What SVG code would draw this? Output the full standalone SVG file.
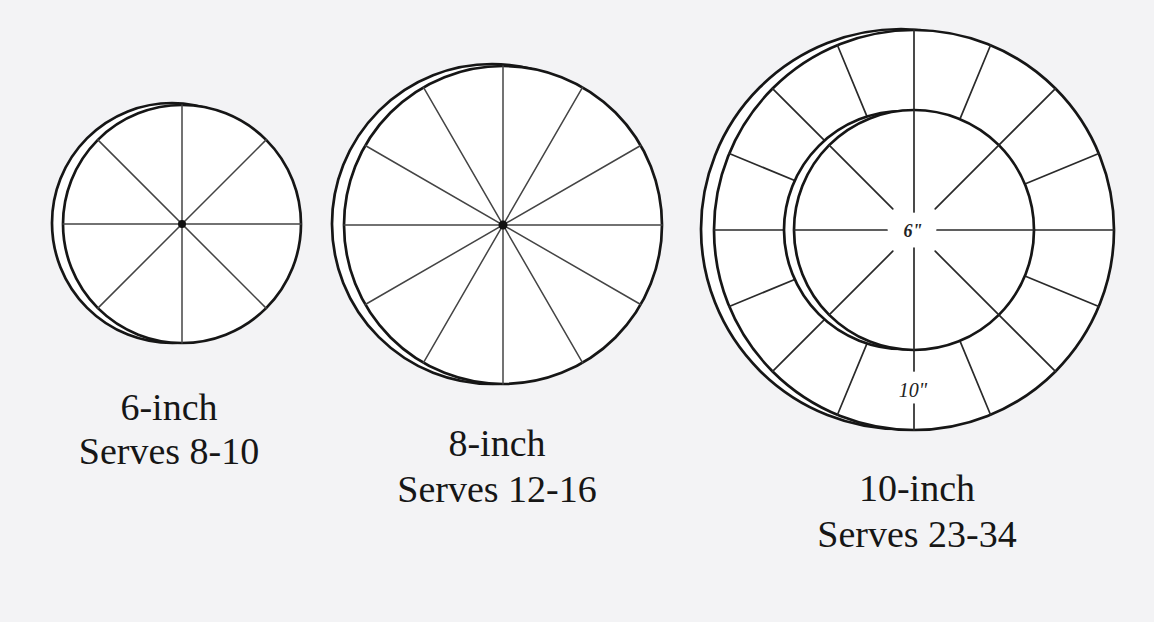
<svg xmlns="http://www.w3.org/2000/svg" width="1154" height="622" viewBox="0 0 1154 622">
  <style>
    .rim { fill: #ffffff; stroke: #161616; stroke-width: 2.7; }
    .spoke { stroke: #444444; stroke-width: 1.5; fill: none; stroke-linecap: round; }
    .spoke2 { stroke: #2a2a2a; stroke-width: 1.7; fill: none; stroke-linecap: round; }
    .hub { fill: #111111; }
    .label { font-family: "Liberation Serif", "Times New Roman", serif; font-size: 38px; fill: #161616; text-anchor: middle; }
    .mark { font-family: "Liberation Serif", "Times New Roman", serif; font-style: italic; fill: #222222; text-anchor: middle; }
  </style>
  <rect x="0" y="0" width="1154" height="622" fill="#f3f3f5"/>

  <g id="cake-6-inch">
    <circle class="rim" cx="172" cy="223" r="120"/>
    <circle class="rim" cx="182" cy="224" r="119"/>
    <g class="spoke">
      <line x1="182" y1="105" x2="182" y2="343"/>
      <line x1="63" y1="224" x2="301" y2="224"/>
      <line x1="97.9" y1="139.9" x2="266.1" y2="308.1"/>
      <line x1="266.1" y1="139.9" x2="97.9" y2="308.1"/>
    </g>
    <circle class="hub" cx="182" cy="224" r="4"/>
    <text class="label" x="169" y="420">6-inch</text>
    <text class="label" x="169" y="464">Serves 8-10</text>
  </g>

  <g id="cake-8-inch">
    <circle class="rim" cx="492" cy="224" r="160"/>
    <circle class="rim" cx="503" cy="225" r="159"/>
    <g class="spoke">
      <line x1="503" y1="66" x2="503" y2="384"/>
      <line x1="344" y1="225" x2="662" y2="225"/>
      <line x1="582.5" y1="87.3" x2="423.5" y2="362.7"/>
      <line x1="423.5" y1="87.3" x2="582.5" y2="362.7"/>
      <line x1="640.7" y1="145.5" x2="365.3" y2="304.5"/>
      <line x1="365.3" y1="145.5" x2="640.7" y2="304.5"/>
    </g>
    <circle class="hub" cx="503" cy="225" r="4.5"/>
    <text class="label" x="497" y="456">8-inch</text>
    <text class="label" x="497" y="502">Serves 12-16</text>
  </g>

  <g id="cake-10-inch">
    <circle class="rim" cx="901" cy="229" r="200"/>
    <circle class="rim" cx="914" cy="230" r="200"/>
    <g class="spoke2">
      <line x1="914" y1="110" x2="914" y2="30"/>
      <line x1="959.92" y1="119.13" x2="990.54" y2="45.22"/>
      <line x1="998.85" y1="145.15" x2="1055.42" y2="88.58"/>
      <line x1="1024.87" y1="184.08" x2="1098.78" y2="153.46"/>
      <line x1="1034" y1="230" x2="1114" y2="230"/>
      <line x1="1024.87" y1="275.92" x2="1098.78" y2="306.54"/>
      <line x1="998.85" y1="314.85" x2="1055.42" y2="371.42"/>
      <line x1="959.92" y1="340.87" x2="990.54" y2="414.78"/>
      <line x1="914" y1="350" x2="914" y2="371"/>
      <line x1="914" y1="404" x2="914" y2="430"/>
      <line x1="868.08" y1="340.87" x2="837.46" y2="414.78"/>
      <line x1="829.15" y1="314.85" x2="772.58" y2="371.42"/>
      <line x1="803.13" y1="275.92" x2="729.22" y2="306.54"/>
      <line x1="794" y1="230" x2="714" y2="230"/>
      <line x1="803.13" y1="184.08" x2="729.22" y2="153.46"/>
      <line x1="829.15" y1="145.15" x2="772.58" y2="88.58"/>
      <line x1="868.08" y1="119.13" x2="837.46" y2="45.22"/>
    </g>
    <circle class="rim" cx="903" cy="230" r="119"/>
    <circle class="rim" cx="914" cy="230" r="120"/>
    <g class="spoke2">
      <line x1="914" y1="110" x2="914" y2="212"/>
      <line x1="914" y1="248" x2="914" y2="350"/>
      <line x1="794" y1="230" x2="887" y2="230"/>
      <line x1="937" y1="230" x2="1034" y2="230"/>
      <line x1="935.2" y1="208.8" x2="998.85" y2="145.15"/>
      <line x1="935.2" y1="251.2" x2="998.85" y2="314.85"/>
      <line x1="892.8" y1="251.2" x2="829.15" y2="314.85"/>
      <line x1="892.8" y1="208.8" x2="829.15" y2="145.15"/>
    </g>
    <text class="mark" x="913" y="237" font-size="18" font-weight="bold">6"</text>
    <text class="mark" x="913" y="397" font-size="20">10"</text>
    <text class="label" x="917" y="501">10-inch</text>
    <text class="label" x="917" y="547">Serves 23-34</text>
  </g>

  <g id="connectors"/>
</svg>
